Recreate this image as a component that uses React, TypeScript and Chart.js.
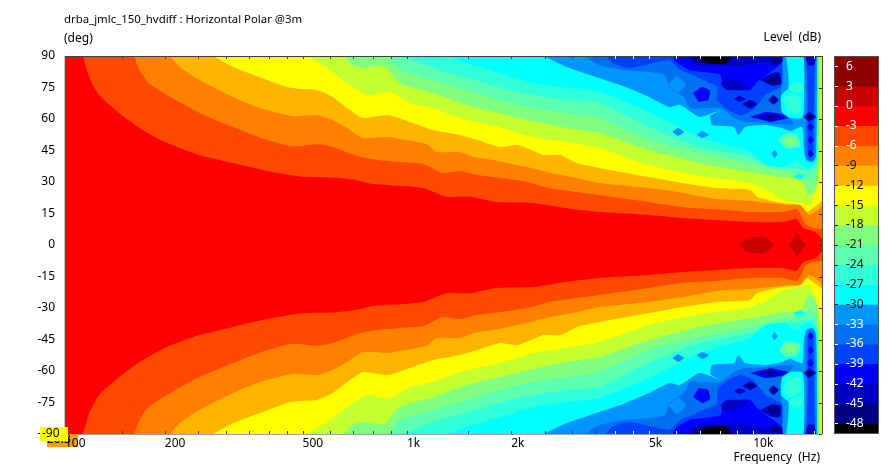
import React, { useEffect, useRef } from "react";
import { Chart, registerables } from "chart.js";

Chart.register(...registerables);

type Pt = [number, number]; // [frequency Hz, angle deg], upper half; the polar is symmetric about 0 deg

const titleText = "drba_jmlc_150_hvdiff : Horizontal Polar @3m";
const FONT = "'Noto Sans'";

const freqMin = 103;
const freqMax = 15800;
const angleTicks = [90, 75, 60, 45, 30, 15, 0, -15, -30, -45, -60, -75, -90];
const freqTicks = [103, 150, 200, 250, 300, 350, 400, 450, 500, 600, 700, 800, 900, 1000, 1500, 2000, 2500, 3000, 3500, 4000, 4500, 5000, 6000, 7000, 8000, 9000, 10000, 15000];
const freqLabels: Record<number, string> = { 103: "100", 200: "200", 500: "500", 1000: "1k", 2000: "2k", 5000: "5k", 10000: "10k" };

const levelTicks = [6, 3, 0, -3, -6, -9, -12, -15, -18, -21, -24, -27, -30, -33, -36, -39, -42, -45, -48];
const barEdges = [7.55, 3, 0, -3, -6, -9, -12, -15, -18, -21, -24, -27, -30, -33, -36, -39, -42, -45, -48, -49.6];
const barColors = ["#8c0000", "#c80000", "#ff0000", "#ff4800", "#ff8000", "#ffb400", "#ffff00", "#c4ff30", "#80ff80", "#5cffb0", "#30ffdc", "#00ffff", "#0094ff", "#0070f0", "#0040ff", "#0000ff", "#0000c0", "#000080", "#000000"];
// colour of the region lying just below a contour level
const colorOf = (level: number) => barColors[barEdges.indexOf(level)];

const baseRegion: Pt[] = [[103, 90], [15800, 90], [15800, 0], [103, 0]];

const contourM3: Pt[] = [[116, 90], [121, 80], [129, 71.5], [146, 63.5], [169, 55.7], [200, 49], [250, 43], [315, 39], [400, 35], [500, 32.5], [630, 32], [708, 31], [800, 29], [1000, 28], [1122, 27], [1300, 23], [1522, 23], [1814, 20.5], [2315, 20], [2895, 17.5], [3596, 15.7], [5000, 14.3], [6260, 12.9], [7880, 11.9], [9800, 11], [12200, 11], [13300, 12.4], [13950, 8.1], [15100, 6.2], [15800, 3.3], [15800, 90]];
const contourM6: Pt[] = [[163, 90], [169, 83.3], [180, 77], [203, 71.4], [252, 62.9], [315, 56.2], [395, 50], [468, 47], [558, 48], [610, 46.7], [651, 45], [732, 42], [822, 40.5], [953, 39.5], [1115, 38.6], [1267, 34.3], [1423, 35.2], [1600, 33.3], [1850, 32], [2224, 30], [2597, 27], [3100, 25.2], [3596, 23.8], [5000, 20.5], [6260, 18], [7880, 17], [9800, 15.7], [12200, 15.7], [13400, 17], [14125, 10], [14600, 8.6], [15800, 8], [15800, 90]];
const contourM9: Pt[] = [[207, 90], [221, 84.8], [252, 78.6], [315, 70.5], [376, 65.2], [468, 61.4], [550, 61.9], [610, 59.5], [672, 55.7], [746, 51], [875, 51.4], [953, 50.5], [1143, 48], [1220, 44.3], [1423, 44.3], [1560, 41.9], [1770, 40.5], [2224, 37.1], [2597, 34.3], [3100, 31.9], [3596, 29.5], [5000, 27.1], [6260, 24.8], [7880, 21.9], [9800, 21], [12800, 19], [13700, 19], [14400, 14.5], [15100, 15.7], [15800, 19], [15800, 90]];
const contourM12: Pt[] = [[276, 90], [315, 84.8], [376, 80], [450, 75.2], [490, 74.3], [550, 73.8], [610, 70.5], [685, 64.3], [746, 60.5], [880, 61.9], [1020, 58.6], [1190, 54.8], [1423, 52.4], [1600, 50], [1850, 46.7], [2090, 47.6], [2480, 42.9], [2770, 42.9], [3100, 39], [3596, 36.7], [5000, 32.4], [6260, 29.5], [7880, 27.1], [9800, 26.2], [10270, 22.9], [12200, 20], [13700, 19], [14300, 15.7], [14860, 17.6], [15800, 21.4], [15800, 90]];
const contourM15: Pt[] = [[517, 90], [610, 82.4], [685, 76.2], [768, 71.4], [891, 72.9], [1020, 67.6], [1190, 65.2], [1423, 60.5], [1850, 56.2], [2315, 51.4], [2895, 49], [3596, 46.2], [5000, 38.1], [7000, 32.9], [9800, 29.5], [11220, 25.2], [12200, 21.4], [13700, 20], [14600, 19], [15400, 28.6], [15600, 35.7], [15800, 38], [15800, 90]];
const contourM18: Pt[] = [[660, 90], [694, 85.7], [741, 84.3], [860, 85.2], [953, 77.1], [1190, 72.4], [1490, 66.7], [1850, 62.9], [2315, 59], [2895, 55.7], [3596, 53.3], [5000, 45.2], [7000, 39], [9800, 34.8], [11220, 33.3], [12200, 31.9], [13700, 31.9], [14400, 23.8], [15100, 26.2], [15400, 33.3], [15500, 90]];
const contourM21: Pt[] = [[891, 90], [953, 83.3], [1190, 78.6], [1490, 73.8], [1850, 69], [2315, 65.2], [2895, 62.9], [3596, 60.5], [5000, 50], [7000, 43.8], [9800, 39], [11220, 36.7], [12800, 34.8], [14125, 31.9], [14860, 31], [15400, 38.1], [15400, 90]];
const contourM24: Pt[] = [[970, 90], [1190, 84.3], [1490, 79.5], [1850, 75.2], [2315, 71.4], [2895, 69], [3596, 67.6], [5000, 56.2], [7000, 46.7], [9800, 41.9], [11220, 38.1], [12800, 36.7], [13950, 35.7], [14860, 35.7], [15300, 41.4], [15400, 90]];
const contourM27: Pt[] = [[1310, 90], [1490, 86.7], [1850, 81.9], [2315, 77.1], [2895, 74.8], [3596, 72.9], [5000, 63.3], [7000, 51.4], [9800, 44.3], [10850, 38.1], [12400, 37.1], [13200, 40.5], [13950, 38.1], [14600, 36.7], [15300, 40.5], [15400, 90]];
const contourM30: Pt[] = [[2480, 90], [2895, 84.8], [3596, 79.5], [4276, 75.2], [5000, 70.5], [5730, 65.7], [6150, 66.7], [7000, 61], [8050, 64.3], [7517, 61.4], [7620, 57.1], [8800, 56.2], [9060, 52.4], [9480, 56.2], [10850, 57.1], [12100, 55.7], [12800, 54.3], [13850, 56.2], [14000, 45.2], [14220, 40.5], [14860, 39.5], [15200, 42.9], [15300, 90]];
const contourM33: Pt[] = [[3270, 90], [3596, 85.7], [4276, 83.3], [5000, 82.4], [5550, 81], [5730, 75.2], [6350, 70], [6560, 65.2], [8050, 65.2], [8800, 60.5], [9480, 58.6], [10400, 58.6], [11600, 57.6], [13080, 57.6], [12500, 61.4], [12100, 64.3], [12100, 90]];
const contourM36: Pt[] = [[3750, 90], [3960, 86.2], [4410, 84.3], [5730, 88], [6150, 83.3], [6700, 81], [7170, 78.6], [7880, 75.2], [7880, 69], [8450, 64.3], [9220, 61.9], [10000, 64.3], [10850, 71.4], [12100, 76], [12100, 90]];
const contourM39: Pt[] = [[5850, 90], [5980, 87.1], [6560, 83.3], [8050, 81], [8150, 75.2], [9120, 73.8], [9800, 73.8], [10270, 77.6], [11220, 82.4], [12100, 86.7], [12200, 90]];
const contourM42: Pt[] = [[6440, 90], [6900, 85.7], [8450, 85.7], [8970, 84.8], [9800, 86.2], [11070, 87.1], [12100, 88], [12100, 90]];
const contourM45: Pt[] = [[6560, 90], [7000, 86.7], [8450, 86.7], [8800, 90]];
const contourM48: Pt[] = [[6900, 90], [7290, 87], [8270, 86.2], [8620, 90]];

// islands above the main contours, in painting order: [level, outline]
const islandLevels: number[] = [-39, -42, -42, -45, -42, -42, -45, -42, -45, -39, -42, -45, -45, -30, -27, -24, -24, -21, -18, -30, -27, -30, -30, -33, -36, -42, -39, -45, -48, -39, -39, -39];
const islandOutlines: Pt[][] = [
  [[6700, 72.4], [7130, 75.2], [7510, 73.3], [7410, 69], [6960, 68.1]],
  [[8050, 76.7], [8450, 79.5], [9600, 75.7], [9480, 73.8], [8350, 73.8]],
  [[10450, 78.6], [11350, 81.9], [11930, 81.9], [12030, 76.7], [11350, 75.7]],
  [[10920, 78.6], [11600, 80.5], [11930, 79.5], [11760, 76.7], [11220, 76.7]],
  [[8800, 69.5], [9120, 71], [9550, 69.5], [9120, 68.1]],
  [[9290, 67.1], [9800, 69], [10270, 67.1], [9800, 64.8]],
  [[9550, 67.1], [9800, 68.1], [10060, 67.1], [9800, 65.7]],
  [[11070, 69], [11430, 71.4], [11850, 69], [11430, 66.7]],
  [[11220, 69], [11430, 70.5], [11690, 69], [11430, 67.6]],
  [[9800, 61], [10850, 63.3], [12100, 62.4], [12590, 60.5], [11220, 58.6]],
  [[10270, 61], [11070, 62.4], [11930, 61.9], [12100, 60.5], [11070, 59]],
  [[10700, 61], [11220, 61.9], [11600, 61], [11220, 59.5]],
  [[11070, 87.1], [11600, 89], [12200, 87.6], [11600, 85.7]],
  [[5670, 76.2], [6020, 80.5], [6400, 76.2], [6070, 72.4]],
  [[12450, 90], [13950, 90], [14000, 64.3], [13850, 60.5], [12800, 60.5], [12100, 63.3], [12030, 71.4], [12650, 74.8], [12590, 83.3]],
  [[12200, 69], [12800, 72.4], [13700, 70], [13700, 63.3], [12650, 62.4]],
  [[12650, 75.2], [13300, 77.6], [13950, 75.7], [13700, 72.4], [12970, 72.9]],
  [[11850, 50], [12400, 53.3], [13400, 52.4], [13700, 47.1], [12400, 45.7]],
  [[12300, 50], [12800, 51.4], [13300, 50.5], [13200, 48.1], [12590, 47.1]],
  [[11300, 43.3], [11520, 45.2], [11760, 43.3], [11520, 41.4]],
  [[13000, 32.4], [13400, 33.8], [14125, 32.9], [13700, 31]],
  [[5840, 53.8], [6070, 55.7], [6310, 53.8], [6070, 51.9]],
  [[6860, 52.4], [7130, 54.3], [7460, 52.4], [7130, 51]],
  [[14000, 90], [14220, 69], [14125, 45.2], [14400, 40.5], [14970, 40.5], [15100, 45.2], [15100, 69], [15200, 90]],
  [[14220, 90], [14400, 69], [14400, 42.9], [14860, 42.9], [14970, 69], [15100, 90]],
  [[14125, 90], [14400, 85.7], [14970, 85.7], [15200, 90]],
  [[13950, 61], [14500, 63.3], [15200, 61], [14500, 58.6]],
  [[14125, 61], [14600, 62.4], [14970, 61], [14600, 59.5]],
  [[14300, 61], [14600, 61.7], [14800, 61], [14600, 60.2]],
  [[14300, 56.2], [14600, 58.1], [14970, 56.2], [14600, 54.3]],
  [[14400, 50], [14600, 51.9], [14970, 50], [14600, 48.1]],
  [[14400, 43.3], [14600, 45.2], [14970, 43.3], [14600, 41.4]],
];

// deep-red patches around the on-axis row
const onAxisPatchA: Pt[] = [[9120, 0], [9600, 3.3], [10850, 3.8], [11450, 0]];
const onAxisPatchB: Pt[] = [[12670, 0], [13400, 5.7], [14125, 0]];
const onAxisSlivers: Pt[] = [[148, 172], [183, 248], [313, 369], [822, 953], [1060, 1180], [1310, 1815], [2015, 2300], [2460, 3210], [5200, 6150], [8050, 9060]];

const mainContours: [number, Pt[]][] = [
  [-3, contourM3], [-6, contourM6], [-9, contourM9], [-12, contourM12], [-15, contourM15], [-18, contourM18],
  [-21, contourM21], [-24, contourM24], [-27, contourM27], [-30, contourM30], [-33, contourM33], [-36, contourM36],
  [-39, contourM39], [-42, contourM42], [-45, contourM45], [-48, contourM48],
];

const region = (label: string, color: string, pts: Pt[], sign: number, tension: number) => ({
  label,
  data: pts.map(([x, y]) => ({ x, y: y * sign })),
  backgroundColor: color,
  borderColor: color,
  borderWidth: 0,
  pointRadius: 0,
  tension,
  fill: "shape",
});

const buildDatasets = () => {
  const painted: any[] = [];
  const both = (label: string, color: string, pts: Pt[], tension: number) => {
    painted.push(region(label + " upper", color, pts, 1, tension));
    painted.push(region(label + " lower", color, pts, -1, tension));
  };
  both("base", colorOf(0), baseRegion, 0);
  mainContours.forEach(([lv, pts]) => both(`${lv} dB`, colorOf(lv), pts, 0.2));
  islandOutlines.forEach((pts, i) => both(`island ${i}`, colorOf(islandLevels[i]), pts, 0.15));
  both("patch A", barColors[1], onAxisPatchA, 0.15);
  both("patch B", barColors[1], onAxisPatchB, 0);
  onAxisSlivers.forEach(([a, b], i) => {
    painted.push({
      label: `sliver ${i}`,
      data: [{ x: a, y: 0 }, { x: b, y: 0 }],
      borderColor: "#e40000",
      borderWidth: 1,
      pointRadius: 0,
      fill: false,
    });
  });
  return painted.reverse(); // Chart.js paints the last dataset first
};

const framePlugin = {
  id: "frame",
  afterDraw(chart: any) {
    const { ctx, chartArea: a, scales } = chart;
    ctx.save();
    ctx.lineWidth = 1;
    const seg = (x0: number, y0: number, x1: number, y1: number, c: string) => {
      ctx.strokeStyle = c;
      ctx.beginPath();
      ctx.moveTo(x0, y0);
      ctx.lineTo(x1, y1);
      ctx.stroke();
    };
    seg(a.left, a.top + 0.5, a.right, a.top + 0.5, "#404040");
    seg(a.left, a.bottom + 0.5, a.right, a.bottom + 0.5, "#a0a0a0");
    seg(a.right + 0.5, a.top, a.right + 0.5, a.bottom, "#505050");
    seg(a.left - 0.5, a.top, a.left - 0.5, a.bottom, "#c8c8c8");
    freqTicks.slice(1).forEach((f) => {
      const x = Math.round(scales.x.getPixelForValue(f)) + 0.5;
      const c = f >= 4000 ? "#e8e8ff" : "#404040";
      seg(x, a.top, x, a.top + 3, c);
      seg(x, a.bottom, x, a.bottom - 3, c);
    });
    angleTicks.forEach((d) => {
      const y = Math.round(scales.y.getPixelForValue(d)) + 0.5;
      seg(a.right - 3, y, a.right, y, "#303030");
    });
    ctx.textBaseline = "middle";
    ctx.fillStyle = "#000";
    ctx.textAlign = "left";
    ctx.font = `11.4px ${FONT}`;
    ctx.fillText(titleText, 64, 20);
    ctx.font = `12px ${FONT}`;
    ctx.fillText("(deg)", 64, 39);
    ctx.textAlign = "right";
    ctx.fillText("Level  (dB)", 821, 38);
    ctx.fillText("Frequency  (Hz)", 820, 458);
    // cursor read-out boxes that sit over the bottom-left corner
    ctx.textAlign = "left";
    ctx.fillStyle = "#ff9c10";
    ctx.fillRect(47, 434, 31, 13);
    ctx.fillStyle = "#000";
    ctx.fillText("20.3", 47, 440);
    ctx.fillText("100", 65, 444);
    ctx.fillStyle = "#ffff00";
    ctx.fillRect(40, 427, 28, 14);
    ctx.fillStyle = "#000";
    ctx.fillText("-90", 42, 434);
    ctx.restore();
  },
};

const barTickPlugin = {
  id: "barTicks",
  afterDraw(chart: any) {
    const { ctx, chartArea: a, scales } = chart;
    ctx.save();
    ctx.lineWidth = 1;
    levelTicks.forEach((v) => {
      const y = Math.round(scales.y.getPixelForValue(v)) + 0.5;
      ctx.strokeStyle = v >= -6 || v <= -33 ? "#ffffff" : "#202020";
      ctx.beginPath();
      ctx.moveTo(a.left, y);
      ctx.lineTo(a.left + 4, y);
      ctx.stroke();
    });
    ctx.strokeStyle = "#505050";
    ctx.strokeRect(a.left + 0.5, a.top + 0.5, a.width - 1, a.height - 1);
    ctx.restore();
  },
};

export default function App() {
  const mainRef = useRef<HTMLCanvasElement>(null);
  const barRef = useRef<HTMLCanvasElement>(null);

  useEffect(() => {
    const main = new Chart(mainRef.current!, {
      type: "line",
      data: { datasets: buildDatasets() },
      plugins: [framePlugin],
      options: {
        animation: false,
        responsive: false,
        devicePixelRatio: 1,
        layout: { autoPadding: false, padding: { left: 0, top: 56, right: 70, bottom: 0 } },
        plugins: { legend: { display: false }, tooltip: { enabled: false }, filler: { propagate: false } },
        elements: { line: { borderWidth: 0 } },
        scales: {
          x: {
            type: "logarithmic",
            min: freqMin,
            max: freqMax,
            grid: { display: false, drawTicks: false },
            border: { display: false },
            afterFit: (s: any) => { s.height = 35; },
            afterBuildTicks: (s: any) => { s.ticks = freqTicks.map((value) => ({ value })); },
            ticks: {
              autoSkip: false,
              maxRotation: 0,
              minRotation: 0,
              align: "start",
              padding: 2,
              color: "#000",
              font: { family: FONT, size: 12 },
              callback: (v: any) => (v === 103 ? "" : freqLabels[v] ?? ""),
            },
          },
          y: {
            type: "linear",
            min: -90,
            max: 90,
            grid: { display: false, drawTicks: false },
            border: { display: false },
            afterFit: (s: any) => { s.width = 65; },
            afterBuildTicks: (s: any) => { s.ticks = angleTicks.map((value) => ({ value })); },
            ticks: {
              padding: 10,
              color: "#000",
              font: { family: FONT, size: 12 },
            },
          },
        },
      } as any,
    } as any);

    const bar = new Chart(barRef.current!, {
      type: "bar",
      data: {
        labels: ["level"],
        datasets: barColors.map((c, i) => ({
          label: `${barEdges[i + 1]}`,
          data: [[barEdges[i + 1], barEdges[i]]],
          backgroundColor: c,
          borderWidth: 0,
          barPercentage: 1,
          categoryPercentage: 1,
          grouped: false,
        })),
      },
      plugins: [barTickPlugin],
      options: {
        animation: false,
        responsive: false,
        devicePixelRatio: 1,
        plugins: { legend: { display: false }, tooltip: { enabled: false } },
        layout: { autoPadding: false, padding: { top: 24, bottom: 24, left: 0, right: 0 } },
        scales: {
          x: { display: false },
          y: {
            min: barEdges[barEdges.length - 1],
            max: barEdges[0],
            grid: { display: false, drawTicks: false },
            border: { display: false },
            afterFit: (s: any) => { s.width = 0; },
            afterBuildTicks: (s: any) => { s.ticks = levelTicks.map((value) => ({ value })); },
            ticks: {
              mirror: true,
              z: 2,
              padding: 12,
              font: { family: FONT, size: 12 },
              color: (c: any) => (c.tick.value >= -6 || c.tick.value <= -33 ? "#ffffff" : "#101010"),
            },
          },
        },
      } as any,
    } as any);

    return () => {
      main.destroy();
      bar.destroy();
    };
  }, []);

  return (
    <div style={{ position: "absolute", left: 0, top: 0, width: 892, height: 469, background: "#fff", overflow: "hidden" }}>
      <canvas ref={mainRef} width={892} height={469} style={{ position: "absolute", left: 0, top: 0 }} />
      <canvas ref={barRef} width={45} height={426} style={{ position: "absolute", left: 834, top: 32 }} />
    </div>
  );
}
